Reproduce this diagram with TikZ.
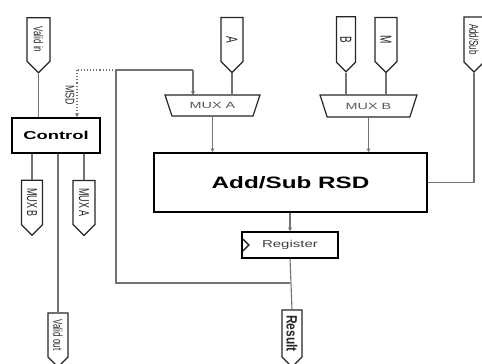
\documentclass[tikz,border=0pt]{standalone}
\usepackage{fontspec}
\setmainfont{Liberation Sans}
\usetikzlibrary{shapes.geometric,shapes.symbols,arrows.meta,calc}
\newcommand{\wx}[2]{\scalebox{#1}[1]{#2}}
\newcommand{\vy}[2]{\scalebox{1}[#1]{#2}}
\tikzset{
  port/.style={signal, signal to=east, rotate=-90, draw=black!85, line width=1.2pt,
    fill=white, inner sep=0pt, minimum height=#1, minimum width=55pt,
    font=\fontsize{8}{8}\selectfont, text=black!85},
  box/.style={draw=black, line width=1.7pt, fill=white, inner sep=0pt},
  mux/.style={trapezium, shape border rotate=180, trapezium angle=58,
    trapezium stretches=true, draw=black!85, line width=1.2pt, fill=white,
    inner sep=0pt, font=\fontsize{9}{9}\selectfont, text=black!65},
  wire/.style={draw=black!55, line width=1.1pt},
  arr/.style={wire, -{Stealth[length=4pt,width=4pt]}},
}
\begin{document}
\begin{tikzpicture}[x=1pt,y=-1pt]
\useasboundingbox (0,0) rectangle (482,364);
\fill[white] (0,0) rectangle (482,364);
% coordinates for the feedback loop
\coordinate (fb) at (290,283);
\coordinate (c1) at (116,283);
\coordinate (j) at (116,70);
\coordinate (m1) at (193,70);
\coordinate (msd) at (77,70);
% wires
\draw[wire] (fb) -- (c1) -- (j) -- (m1);
\draw[arr] (m1) -- (m1 |- 0,95);
\draw[wire, dotted, line width=1.2pt] (j) -- (msd);
% boxes
\node[box, minimum width=88pt, minimum height=35pt] (ctrl) at (56,135.5)
  {\fontsize{11.5}{11.5}\selectfont\bfseries\wx{1.6}{Control}};
\node[box, minimum width=273pt, minimum height=59pt] (addsub) at (290.5,182.5)
  {\fontsize{16.5}{16.5}\selectfont\bfseries\wx{1.47}{Add/Sub RSD}};
\node[box, line width=1.3pt, minimum width=96pt, minimum height=26pt, text=black!75] (reg) at (290,245)
  {\fontsize{10}{10}\selectfont\wx{1.5}{Register}};
\draw[black!85, line width=1.3pt] ($(reg.west)+(1.5,-6)$) -- ++(6,6) -- ++(-6,6);
\node[mux, minimum width=95pt, minimum height=21pt] (muxA) at (212.5,105.5) {\wx{1.6}{MUX A}};
\node[mux, minimum width=97pt, minimum height=22pt] (muxB) at (368.5,106) {\wx{1.6}{MUX B}};
% ports
\node[port=23pt] (vin) at (38.5,39.5) {\vy{1.6}{Valid in}};
\node[port=22pt] (pA) at (232,39.5) {\fontsize{10}{10}\selectfont\vy{1.6}{A}};
\node[port=19pt] (pB) at (346,39.5) {\fontsize{10}{10}\selectfont\vy{1.6}{B}};
\node[port=22pt] (pM) at (386,39.5) {\fontsize{10}{10}\selectfont\vy{1.6}{M}};
\node[port=20pt] (pAS) at (474,39.5) {\vy{1.6}{Add/Sub}};
\node[port=21pt] (pmb) at (32,202.5) {\fontsize{9}{9}\selectfont\vy{1.6}{MUX B}};
\node[port=22pt] (pma) at (84,202.5) {\fontsize{9}{9}\selectfont\vy{1.6}{MUX A}};
\node[port=20pt, minimum width=54pt] (vout) at (58,335) {\vy{1.6}{Valid out}};
\node[port=20pt, minimum width=57pt] (res) at (292,333.5)
  {\fontsize{12}{12}\selectfont\bfseries\vy{1.25}{Result}};
% MSD label
\node[rotate=-90, inner sep=0pt, font=\fontsize{9}{9}\selectfont, text=black!80] (msdl) at (70,95) {\vy{1.4}{MSD}};
% connections
\draw[wire] (vin.east) -- (vin.east |- ctrl.north);
\draw[wire, dotted, line width=1.2pt, -{Stealth[length=4pt,width=4pt]}] (msd) -- (msd |- ctrl.north);
\draw[wire] (pA.east) -- (pA.east |- muxA.north);
\draw[wire] (pB.east) -- (pB.east |- muxB.north);
\draw[wire] (pM.east) -- (pM.east |- muxB.north);
\draw[arr] (muxA.south) -- (muxA.south |- addsub.north);
\draw[arr] (muxB.south) -- (muxB.south |- addsub.north);
\draw[wire] (pAS.east) -- (pAS.east |- addsub.east) -- (addsub.east);
\draw[arr] (addsub.south -| reg.north) -- (reg.north);
\draw[wire] (reg.south) -- (res.west);
\draw[wire] (pmb.west |- ctrl.south) -- (pmb.west);
\draw[wire] (pma.west |- ctrl.south) -- (pma.west);
\draw[wire] (vout.west |- ctrl.south) -- (vout.west);
\end{tikzpicture}
\end{document}
